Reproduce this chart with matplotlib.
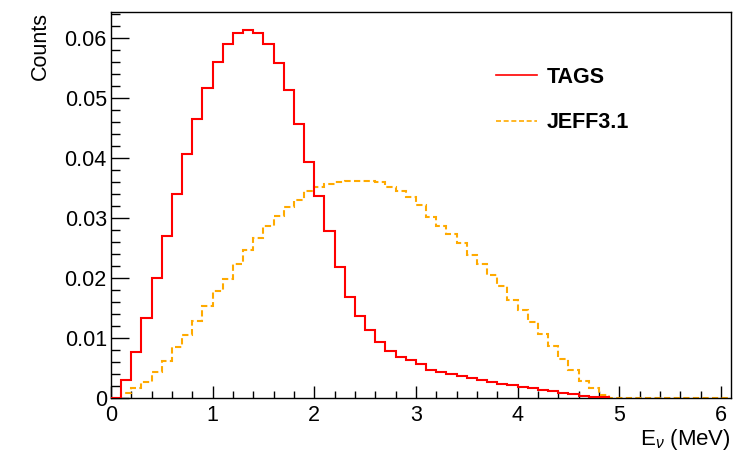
import numpy as np
import matplotlib.pyplot as plt
from matplotlib.ticker import MultipleLocator

plt.rcParams['font.family'] = ['Liberation Sans', 'DejaVu Sans']
plt.rcParams['mathtext.fontset'] = 'custom'
plt.rcParams['mathtext.rm'] = 'Liberation Sans'
plt.rcParams['mathtext.it'] = 'Liberation Sans:italic'

# bin contents, 0.1 MeV bins starting at 0
tags = [0.0, 0.0030, 0.0077, 0.0134, 0.0200, 0.0270, 0.0339, 0.0406, 0.0465, 0.0516,
        0.0560, 0.0590, 0.0608, 0.0613, 0.0608, 0.0589, 0.0558, 0.0513, 0.0457, 0.0393,
        0.0336, 0.0278, 0.0218, 0.0168, 0.0136, 0.0113, 0.0094, 0.0079, 0.0069, 0.0063,
        0.0056, 0.0046, 0.0043, 0.0040, 0.0037, 0.0033, 0.0030, 0.0027, 0.0024, 0.0022,
        0.0019, 0.0016, 0.0014, 0.0012, 0.0009, 0.0007, 0.0004, 0.0002, 0.0001]
jeff = [0.0, 0.0008, 0.0016, 0.0027, 0.0043, 0.0061, 0.0085, 0.0105, 0.0128, 0.0153,
        0.0178, 0.0199, 0.0224, 0.0247, 0.0266, 0.0286, 0.0304, 0.0319, 0.0330, 0.0344,
        0.0351, 0.0356, 0.0359, 0.0362, 0.0362, 0.0362, 0.0359, 0.0352, 0.0344, 0.0334,
        0.0322, 0.0301, 0.0287, 0.0274, 0.0259, 0.0239, 0.0223, 0.0205, 0.0186, 0.0163,
        0.0147, 0.0126, 0.0106, 0.0086, 0.0065, 0.0047, 0.0029, 0.0016, 0.0005, 0.0,
        0.0, 0.0, 0.0, 0.0, 0.0, 0.0, 0.0, 0.0, 0.0, 0.0, 0.0]
bin_w = 0.1

fig = plt.figure(figsize=(7.49, 4.51), dpi=100)
ax = fig.add_axes([0.1482, 0.1175, 0.9760 - 0.1482, 0.9734 - 0.1175])

edges_t = np.arange(len(tags) + 1) * bin_w
edges_j = np.arange(len(jeff) + 1) * bin_w
ax.stairs(jeff, edges_j, color='#ffaa00', lw=1.5, ls=(0, (3, 1.6)), label='JEFF3.1', zorder=2)
ax.stairs(tags, edges_t, color='#ff0000', lw=1.5, label='TAGS', zorder=3)

ax.set_xlim(0, 6.1)
ax.set_ylim(0, 0.0643)
ax.xaxis.set_major_locator(MultipleLocator(1))
ax.xaxis.set_minor_locator(MultipleLocator(0.2))
ax.yaxis.set_major_locator(MultipleLocator(0.01))
ax.yaxis.set_minor_locator(MultipleLocator(0.002))
ax.yaxis.set_major_formatter(plt.FuncFormatter(lambda v, p: '0' if abs(v) < 1e-9 else f'{v:.2f}'))

fs = 15.5
ax.tick_params(axis='both', which='both', direction='in', top=False, right=False,
               labelsize=fs, width=1, color='black')
ax.tick_params(axis='x', which='major', length=9, pad=5)
ax.tick_params(axis='x', which='minor', length=5)
ax.tick_params(axis='y', which='major', length=13, pad=3)
ax.tick_params(axis='y', which='minor', length=6.5)
for s in ax.spines.values():
    s.set_linewidth(1)

ax.set_ylabel('Counts', fontsize=fs, loc='top', labelpad=10)
ax.set_xlabel(r'E$_{\nu}$ (MeV)', fontsize=16, loc='right', labelpad=1)

h, l = ax.get_legend_handles_labels()
leg = ax.legend(h[::-1], l[::-1], loc='center left', bbox_to_anchor=(0.59, 0.772),
                frameon=False, handlelength=1.9, labelspacing=1.15,
                handletextpad=0.45, prop={'weight': 'bold', 'size': fs})
for line in leg.get_lines():
    line.set_linewidth(1.2)

fig.savefig('out.png', dpi=100)
